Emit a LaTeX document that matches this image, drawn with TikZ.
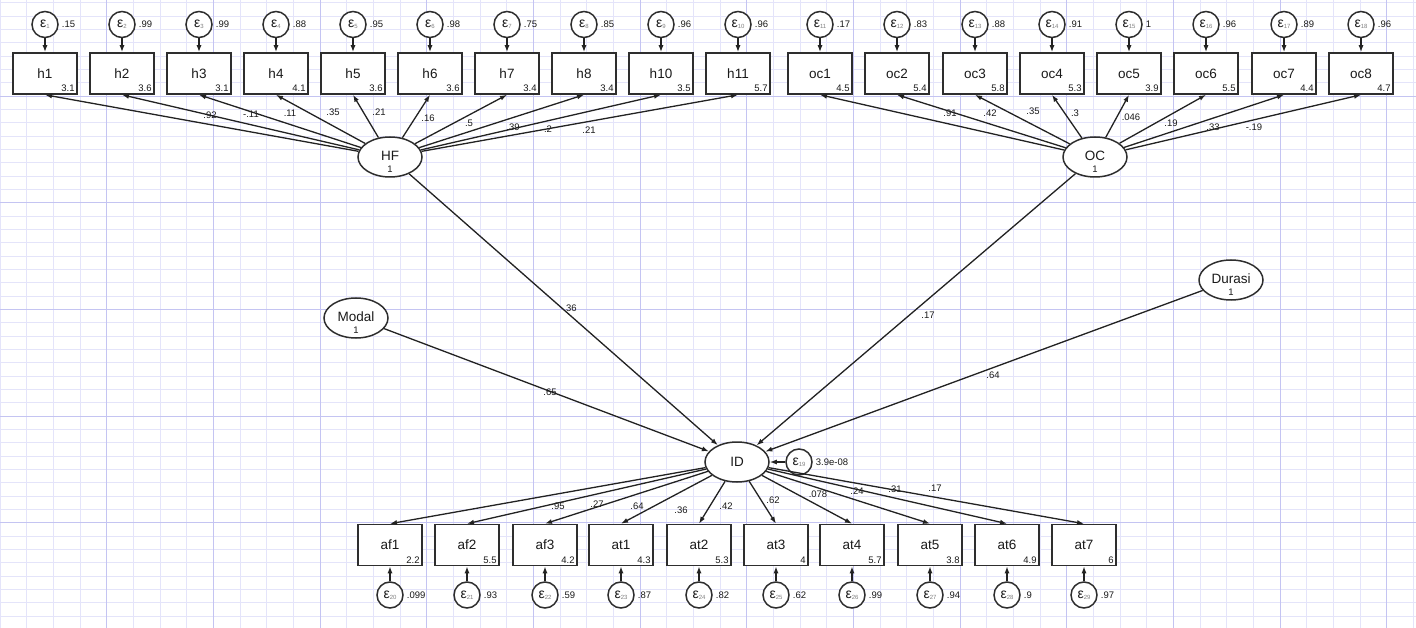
\documentclass[tikz,border=0pt]{standalone}
\usepackage{fontspec}
\setmainfont{Liberation Sans}
\usetikzlibrary{
  positioning,
  shapes.geometric,
  arrows.meta,
  calc,
}
\definecolor{border}{HTML}{2E2E2E}
\definecolor{lineCol}{HTML}{222222}
\definecolor{textCol}{HTML}{1A1A1A}
\definecolor{subCol}{HTML}{808080}
\definecolor{gridMinor}{HTML}{E4E4FA}
\definecolor{gridMajor}{HTML}{C4C4F2}
\newcommand{\valfont}{\fontsize{9.5}{10}\selectfont}
\newcommand{\epsl}[1]{ε\raisebox{-1pt}{\fontsize{6}{6}\selectfont\color{subCol}#1}}
\tikzset{
  obsbox/.style={
    rectangle, draw=border, fill=white, line width=1.6pt,
    minimum width=64pt, minimum height=41pt, inner sep=0pt,
    font=\fontsize{13.5}{15}\selectfont, text=textCol,
  },
  latent/.style={
    ellipse, draw=border, fill=white, line width=1.5pt,
    minimum width=64pt, minimum height=40pt, inner sep=0pt,
    font=\fontsize{13.5}{15}\selectfont, text=textCol,
  },
  errc/.style={
    circle, draw=border, fill=white, line width=1.5pt,
    minimum size=26pt, inner sep=0pt,
    font=\fontsize{14}{14}\selectfont, text=textCol,
  },
  val/.style={font=\valfont, text=textCol, inner sep=1pt},
  arrow/.style={-{Latex[length=7pt,width=5pt]}, lineCol, line width=1.3pt},
  gridminor/.style={gridMinor, line width=0.6pt},
  gridmajor/.style={gridMajor, line width=0.8pt},
}

\begin{document}
\begin{tikzpicture}[x=1pt, y=-1pt]

  \useasboundingbox (0,0) rectangle (1416,628);
  \fill[white] (0,0) rectangle (1416,628);

  % grid
  \foreach \k in {0,...,53} \draw[gridminor] (\k*26.667,0) -- (\k*26.667,628);
  \foreach \k in {0,...,47} \draw[gridminor] (0,2.67+\k*13.333) -- (1416,2.67+\k*13.333);
  \foreach \k in {1,...,13} \draw[gridmajor] (\k*106.667,0) -- (\k*106.667,628);
  \foreach \k in {0,...,5} \draw[gridmajor] (0,96+\k*106.667) -- (1416,96+\k*106.667);

  % latent variables
  \node[latent] (HF) at (390,157) {};
  \node[latent] (OC) at (1095,157) {};
  \node[latent] (Modal) at (356,318) {};
  \node[latent] (Durasi) at (1231,280) {};
  \node[latent] (ID) at (737,462) {ID};
  \foreach \n/\t in {HF/HF, OC/OC, Modal/Modal, Durasi/Durasi} {
    \node[font=\fontsize{13.5}{15}\selectfont, text=textCol, inner sep=0pt] at ([yshift=1pt]\n.center) {\t};
    \node[val] at ([yshift=-12pt]\n.center) {1};
  }
  \node[errc] (e19) at (799,462) {\epsl{19}};
  \node[val, anchor=west] at ([xshift=2pt]e19.east) {3.9e-08};
  \draw[arrow] (e19) -- (ID);

  % HF indicators
  \foreach \n/\x/\m/\ev/\i/\lv/\lx/\ly in {
      h1/45/3.1/.15/1/.92/210/115, h2/122/3.6/.99/2/-.11/251/114,
      h3/199/3.1/.99/3/.11/290/113, h4/276/4.1/.88/4/.35/333/112,
      h5/353/3.6/.95/5/.21/379/112, h6/430/3.6/.98/6/.16/428/118,
      h7/507/3.4/.75/7/.5/469/123, h8/584/3.4/.85/8/.39/513/127,
      h10/661/3.5/.96/9/.2/548/129, h11/738/5.7/.96/10/.21/589/130} {
    \node[obsbox] (\n) at (\x,73.5) {\n};
    \node[val, anchor=south east] at ([xshift=-2pt,yshift=2pt]\n.south east) {\m};
    \node[errc] (e\i) at (\x,24.5) {\epsl{\i}};
    \node[val, anchor=west] at ([xshift=2pt]e\i.east) {\ev};
    \draw[arrow] (e\i) -- (\n);
    \draw[arrow] (HF) -- (\n.south);
    \node[val] at (\lx,\ly) {\lv};
  }

  % OC indicators
  \foreach \n/\x/\m/\ev/\i/\lv/\lx/\ly in {
      oc1/820/4.5/.17/11/.91/950/113, oc2/897/5.4/.83/12/.42/990/113,
      oc3/975/5.8/.88/13/.35/1033/111, oc4/1052/5.3/.91/14/.3/1075/113,
      oc5/1129/3.9/1/15/.046/1131/117, oc6/1206/5.5/.96/16/.19/1171/123,
      oc7/1284/4.4/.89/17/.33/1213/127, oc8/1361/4.7/.96/18/-.19/1254/127} {
    \node[obsbox] (\n) at (\x,73.5) {\n};
    \node[val, anchor=south east] at ([xshift=-2pt,yshift=2pt]\n.south east) {\m};
    \node[errc] (e\i) at (\x,24.5) {\epsl{\i}};
    \node[val, anchor=west] at ([xshift=2pt]e\i.east) {\ev};
    \draw[arrow] (e\i) -- (\n);
    \draw[arrow] (OC) -- (\n.south);
    \node[val] at (\lx,\ly) {\lv};
  }

  % ID indicators
  \foreach \n/\x/\m/\ev/\i/\lv/\lx/\ly in {
      af1/390/2.2/.099/20/.95/558/506, af2/467/5.5/.93/21/.27/597/504,
      af3/545/4.2/.59/22/.64/637/506, at1/621/4.3/.87/23/.36/681/510,
      at2/699/5.3/.82/24/.42/726/506, at3/776/4/.62/25/.62/773/500,
      at4/852/5.7/.99/26/.078/818/494, at5/930/3.8/.94/27/.24/857/491,
      at6/1007/4.9/.9/28/.31/895/489, at7/1084/6/.97/29/.17/935/488} {
    \node[obsbox] (\n) at (\x,545) {\n};
    \node[val, anchor=south east] at ([xshift=-2pt,yshift=2pt]\n.south east) {\m};
    \node[errc] (e\i) at (\x,595) {\epsl{\i}};
    \node[val, anchor=west] at ([xshift=2pt]e\i.east) {\ev};
    \draw[arrow] (e\i) -- (\n);
    \draw[arrow] (ID) -- (\n.north);
    \node[val] at (\lx,\ly) {\lv};
  }

  % structural paths
  \draw[arrow] (HF) -- (ID);
  \draw[arrow] (OC) -- (ID);
  \draw[arrow] (Modal) -- (ID);
  \draw[arrow] (Durasi) -- (ID);
  \node[val] at (570,308) {.36};
  \node[val] at (928,315) {.17};
  \node[val] at (550,392) {.65};
  \node[val] at (993,375) {.64};

\end{tikzpicture}
\end{document}
